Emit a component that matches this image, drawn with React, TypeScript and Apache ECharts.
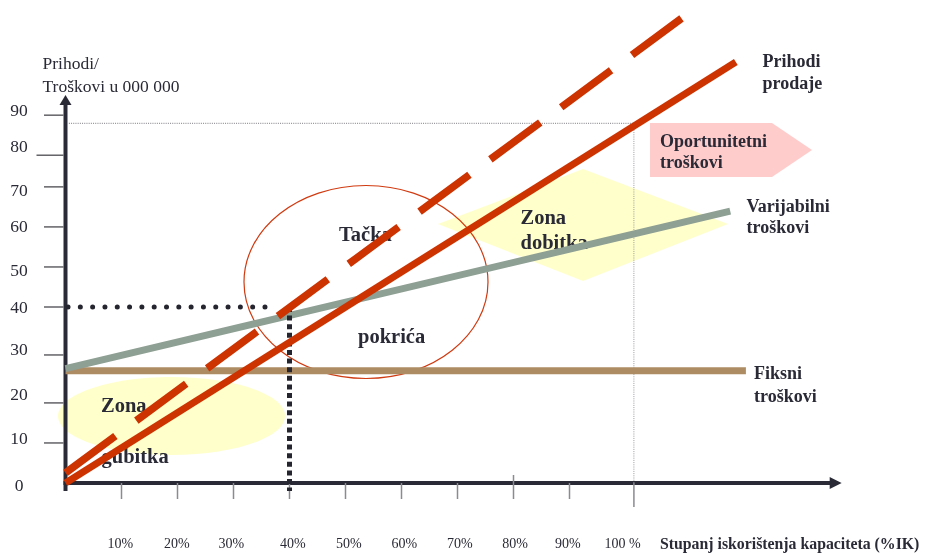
import React, { useEffect, useRef } from "react";
import * as echarts from "echarts";

// ---------------- data ----------------
const xTickLabels = ["10%", "20%", "30%", "40%", "50%", "60%", "70%", "80%", "90%", "100 %"];
const xTickPos = [10, 20, 30, 40, 50, 60, 70, 80, 90, 101.5];
const xLabelPos = [9.8, 19.9, 29.6, 40.6, 50.6, 60.5, 70.4, 80.3, 89.7, 99.5];
const yTickLabels = ["90", "80", "70", "60", "50", "40", "30", "20", "10", "0"];
const yLabelPos = [84.8, 76.5, 66.7, 58.5, 48.5, 40, 30.4, 20.2, 10.2, -0.45];
const yTickPos = [83.6, 74.5, 67.3, 58.2, 49.1, 40, 29.1, 18.2, 9.1];

const fixedCosts = [[0, 25.5], [121.5, 25.5]];
const variableCosts = [[0, 26], [118.7, 61.8]];
const salesRevenue = [[0, 0], [119.7, 95.7]];
const revenueDashed = [[0, 2.3], [110, 105.6]];
const breakEvenPct = 40;
const breakEvenValue = 40;
const capacityPct = 101.5;
const capacityValue = 81.75;

const X_MAX = 140;
const Y_MAX = 90;
const X_AXIS_END = 138.6;
const Y_AXIS_END = 88.2;

// ---------------- style ----------------
const AXIS = "#2A2A36";
const TEXT = "#2A2A36";
const RED = "#CC3300";
const SERIF = '"Liberation Serif", "Times New Roman", serif';
const yTickLen = [21.5, 29, 21.5, 21.5, 21.5, 21.5, 21.5, 21.5, 21.5];
const xTickAbove = [0, 0, 0, 0, 0, 0, 0, 8, 0, 0];
const xTickBelow = [16, 16, 16, 16, 16, 16, 16, 16, 16, 24];

export default function App() {
  const ref = useRef<HTMLDivElement>(null);
  useEffect(() => {
    const chart = echarts.init(ref.current!, null, { renderer: "svg" });
    const lineSeries = (name: string, data: number[][], color: string, width: number, type: any = "solid", cap: any = "butt") => ({
      name,
      type: "line",
      data,
      symbol: "none",
      clip: false,
      silent: true,
      lineStyle: { color, width, type, cap },
    });
    const option: any = {
      animation: false,
      grid: { left: 65.5, top: 87, width: X_MAX * 5.6, height: Y_MAX * 4.4 },
      xAxis: { type: "value", min: 0, max: X_MAX, show: false },
      yAxis: { type: "value", min: 0, max: Y_MAX, show: false },
      graphic: [
        { type: "ellipse", z: 0, shape: { cx: 171.5, cy: 416, rx: 113.5, ry: 39 }, style: { fill: "#FFFFCC" } },
        {
          type: "polygon", z: 0,
          shape: { points: [[438, 224], [583, 169], [728, 224], [583, 281]] },
          style: { fill: "#FFFFCC" },
        },
        { type: "ellipse", z: 1, shape: { cx: 366, cy: 282, rx: 122, ry: 96.5 }, style: { fill: "none", stroke: "#D03A10", lineWidth: 1.2 } },
        {
          type: "polygon", z: 1,
          shape: { points: [[650, 123], [772, 123], [812, 150], [772, 177], [650, 177]] },
          style: { fill: "#FFCCCC" },
        },
        ...[
          { t: "Prihodi/\nTroškovi u 000 000", x: 42.5, y: 74.3, lh: 23.4, f: `17.5px ${SERIF}` },
          { t: "Prihodi\nprodaje", x: 762.5, y: 72, lh: 22.6, f: `bold 18px ${SERIF}` },
          { t: "Oportunitetni\ntroškovi", x: 660, y: 151.5, lh: 21.8, f: `bold 18px ${SERIF}` },
          { t: "Varijabilni\ntroškovi", x: 746.5, y: 216.5, lh: 21.8, f: `bold 18px ${SERIF}` },
          { t: "Fiksni\ntroškovi", x: 754, y: 384.5, lh: 22.4, f: `bold 18px ${SERIF}` },
          { t: "Zona\ndobitka", x: 520.5, y: 229, lh: 25, f: `bold 20.5px ${SERIF}` },
          { t: "Tačka", x: 339, y: 233.5, lh: 25, f: `bold 20.5px ${SERIF}` },
          { t: "pokrića", x: 358, y: 336, lh: 25, f: `bold 20.5px ${SERIF}` },
          { t: "Zona", x: 101, y: 405, lh: 25, f: `bold 20.5px ${SERIF}` },
          { t: "gubitka", x: 101.5, y: 456, lh: 25, f: `bold 20.5px ${SERIF}` },
          { t: "Stupanj iskorištenja kapaciteta (%IK)", x: 660, y: 543, lh: 20, f: `bold 15.8px ${SERIF}` },
        ].map((o) => ({
          type: "text", z: 1, x: o.x, y: o.y,
          style: {
            text: o.t, fill: TEXT, font: o.f, lineHeight: o.lh,
            align: "left", verticalAlign: "middle", textAlign: "left", textVerticalAlign: "middle",
          },
        })),
      ],
      series: [
        {
          type: "custom", name: "axes", silent: true, data: [[0, 0]],
          renderItem: (params: any, api: any) => {
            const o = api.coord([0, 0]);
            const yTip = api.coord([0, Y_AXIS_END]);
            const xTip = api.coord([X_AXIS_END, 0]);
            const yBot = api.coord([0, -1.8]);
            return {
              type: "group",
              children: [
                { type: "line", shape: { x1: o[0], y1: yBot[1], x2: o[0], y2: yTip[1] + 8 }, style: { stroke: AXIS, lineWidth: 4 } },
                { type: "polygon", shape: { points: [[yTip[0], yTip[1]], [yTip[0] - 6, yTip[1] + 10], [yTip[0] + 6, yTip[1] + 10]] }, style: { fill: AXIS } },
                { type: "line", shape: { x1: o[0] - 2, y1: o[1], x2: xTip[0] - 10, y2: o[1] }, style: { stroke: AXIS, lineWidth: 4 } },
                { type: "polygon", shape: { points: [[xTip[0], xTip[1]], [xTip[0] - 12, xTip[1] - 6], [xTip[0] - 12, xTip[1] + 6]] }, style: { fill: AXIS } },
              ],
            };
          },
        },
        {
          type: "custom", name: "yTicks", silent: true, data: yTickPos.map((v) => [0, v]),
          renderItem: (params: any, api: any) => {
            const p = api.coord([0, api.value(1)]);
            const len = yTickLen[params.dataIndex];
            return { type: "line", shape: { x1: p[0] - len, y1: p[1], x2: p[0] - 2, y2: p[1] }, style: { stroke: "#4A4A50", lineWidth: 1.3 } };
          },
        },
        {
          type: "custom", name: "yLabels", silent: true, data: yLabelPos.map((v) => [0, v]),
          renderItem: (params: any, api: any) => {
            const p = api.coord([0, api.value(1)]);
            return {
              type: "text", x: p[0] - 46.5, y: p[1],
              style: { text: yTickLabels[params.dataIndex], fill: TEXT, font: `17.5px ${SERIF}`, align: "center", verticalAlign: "middle" },
            };
          },
        },
        {
          type: "custom", name: "xTicks", silent: true, data: xTickPos.map((v) => [v, 0]),
          renderItem: (params: any, api: any) => {
            const p = api.coord([api.value(0), 0]);
            const i = params.dataIndex;
            return { type: "line", shape: { x1: p[0], y1: p[1] - xTickAbove[i], x2: p[0], y2: p[1] + xTickBelow[i] }, style: { stroke: "#8A8A90", lineWidth: 1.5 } };
          },
        },
        {
          type: "custom", name: "xLabels", silent: true, data: xLabelPos.map((v) => [v, 0]),
          renderItem: (params: any, api: any) => {
            const p = api.coord([api.value(0), 0]);
            return {
              type: "text", x: p[0], y: p[1] + 60,
              style: { text: xTickLabels[params.dataIndex], fill: TEXT, font: `14px ${SERIF}`, align: "center", verticalAlign: "middle" },
            };
          },
        },
        lineSeries("capacityH", [[0.6, capacityValue], [capacityPct, capacityValue]], "#7A7A80", 1, [1, 1.2]),
        lineSeries("capacityV", [[capacityPct, capacityValue], [capacityPct, 0]], "#9A9AA0", 1, [1, 1.2]),
        lineSeries("Fiksni troškovi", fixedCosts, "#AE8C63", 7),
        lineSeries("Varijabilni troškovi", variableCosts, "#8E9F93", 7),
        lineSeries("breakEvenH", [[0.45, breakEvenValue], [breakEvenPct - 2.2, breakEvenValue]], "#25252F", 5, [0.01, 12.3], "round"),
        lineSeries("breakEvenV", [[breakEvenPct, breakEvenValue], [breakEvenPct, -1.8]], "#25252F", 5, [5, 3.6]),
        lineSeries("Prihodi prodaje", salesRevenue, RED, 7),
        lineSeries("Prihodi (isprekidano)", revenueDashed, RED, 7.5, [62, 26]),
      ],
    };
    chart.setOption(option);
    return () => chart.dispose();
  }, []);
  return <div ref={ref} style={{ position: "fixed", left: 0, top: 0, width: 925, height: 553 }} />;
}
